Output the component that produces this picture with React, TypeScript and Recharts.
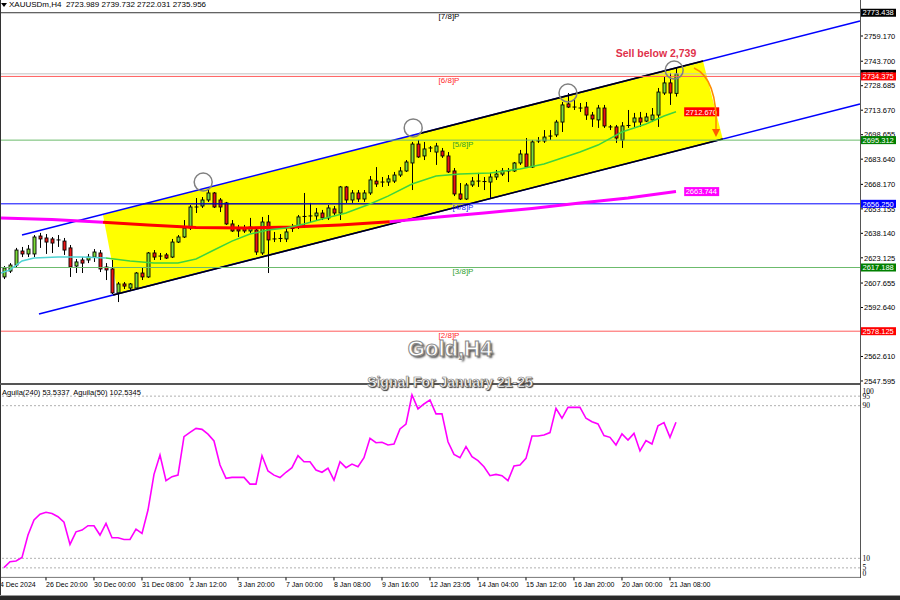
import React from 'react';
import {
  ComposedChart,
  Bar,
  Line,
  Area,
  XAxis,
  YAxis,
  ReferenceLine,
  ReferenceDot,
} from 'recharts';

// H4 candles, 24 Dec 2024 -> 21 Jan 2025 (index 0 = first visible bar)
const opens = [
  2611.4, 2615.0, 2618.7, 2627.3, 2625.5, 2625.5, 2636.5, 2635.3, 2634.7, 2634.1,
  2633.4, 2629.2, 2618.1, 2621.8, 2621.8, 2623.6, 2626.1, 2617.5, 2616.3, 2601.6,
  2607.1, 2604.6, 2604.6, 2613.8, 2611.4, 2626.1, 2624.2, 2624.9, 2623.6, 2632.8,
  2635.9, 2641.4, 2654.3, 2654.9, 2658.6, 2662.9, 2658.6, 2656.8, 2643.9, 2640.8,
  2641.4, 2639.6, 2640.2, 2626.1, 2645.1, 2634.7, 2634.7, 2634.7, 2640.8, 2642.0,
  2648.2, 2648.8, 2648.8, 2650.6, 2647.6, 2653.1, 2650.6, 2666.6, 2658.6, 2662.9,
  2659.2, 2662.9, 2670.2, 2669.6, 2669.6, 2670.2, 2673.9, 2676.4, 2681.3, 2692.9,
  2685.6, 2690.5, 2688.0, 2688.6, 2685.6, 2676.4, 2662.3, 2659.2, 2667.8, 2670.2,
  2669.6, 2669.6, 2672.7, 2674.5, 2676.4, 2676.4, 2681.3, 2686.8, 2678.8, 2694.8,
  2694.8, 2697.8, 2698.5, 2706.4, 2717.5, 2715.6, 2715.0, 2715.6, 2710.7, 2707.7,
  2715.0, 2703.4, 2703.4, 2695.4, 2704.0, 2706.4, 2708.9, 2707.0, 2707.7, 2710.7,
  2724.2, 2730.4, 2723.989,
];
const highs = [
  2618.1, 2619.9, 2629.2, 2629.8, 2631.0, 2637.1, 2638.4, 2637.7, 2635.9, 2637.1,
  2635.3, 2631.0, 2622.4, 2623.6, 2625.5, 2628.5, 2627.9, 2619.9, 2621.8, 2608.3,
  2608.3, 2607.7, 2614.4, 2617.5, 2626.7, 2627.9, 2626.1, 2626.1, 2634.7, 2637.1,
  2646.3, 2655.5, 2659.8, 2660.4, 2664.7, 2663.5, 2659.8, 2657.4, 2646.3, 2643.3,
  2643.3, 2647.6, 2642.0, 2648.2, 2649.4, 2639.0, 2637.7, 2642.0, 2643.9, 2649.4,
  2662.9, 2656.8, 2653.7, 2652.5, 2655.5, 2654.9, 2667.2, 2667.2, 2664.7, 2664.7,
  2664.7, 2673.3, 2678.8, 2672.7, 2673.9, 2675.8, 2678.8, 2683.1, 2694.2, 2695.4,
  2694.2, 2691.7, 2693.6, 2690.5, 2688.0, 2678.2, 2669.0, 2669.0, 2672.7, 2675.2,
  2672.7, 2675.2, 2677.0, 2678.2, 2678.2, 2681.9, 2689.3, 2696.6, 2695.4, 2697.2,
  2701.5, 2701.5, 2707.7, 2718.7, 2724.2, 2719.9, 2718.1, 2718.7, 2712.6, 2716.9,
  2716.9, 2704.6, 2704.6, 2706.4, 2713.8, 2712.0, 2712.6, 2712.0, 2715.0, 2727.3,
  2734.0, 2736.5, 2739.732,
];
const lows = [
  2610.1, 2613.8, 2617.5, 2623.6, 2623.6, 2623.6, 2629.2, 2625.5, 2626.1, 2629.8,
  2624.9, 2611.4, 2613.8, 2613.8, 2619.9, 2620.6, 2614.4, 2609.5, 2600.9, 2596.0,
  2604.0, 2603.4, 2604.0, 2609.5, 2610.8, 2621.8, 2621.8, 2622.4, 2623.0, 2632.2,
  2635.3, 2640.2, 2650.6, 2653.7, 2657.4, 2653.7, 2651.2, 2643.3, 2639.0, 2635.9,
  2638.4, 2638.4, 2624.9, 2624.9, 2613.8, 2632.8, 2632.8, 2632.8, 2639.0, 2640.8,
  2641.4, 2644.5, 2646.3, 2646.3, 2646.3, 2649.4, 2646.3, 2656.8, 2656.8, 2657.4,
  2657.4, 2661.7, 2666.6, 2666.6, 2667.2, 2669.0, 2672.7, 2675.8, 2664.7, 2684.4,
  2683.1, 2688.0, 2680.1, 2684.4, 2675.2, 2661.0, 2658.6, 2658.6, 2666.6, 2666.6,
  2664.7, 2659.8, 2670.9, 2673.3, 2669.6, 2675.8, 2680.1, 2678.2, 2678.2, 2693.6,
  2693.6, 2695.4, 2697.2, 2700.3, 2715.0, 2713.8, 2712.6, 2707.7, 2703.4, 2702.8,
  2702.8, 2701.5, 2693.6, 2690.5, 2702.8, 2703.4, 2703.4, 2706.4, 2706.4, 2703.4,
  2723.0, 2716.9, 2722.031,
];
const closes = [
  2616.9, 2618.7, 2627.9, 2625.5, 2628.5, 2635.9, 2634.7, 2632.8, 2632.2, 2633.8,
  2627.9, 2617.5, 2620.6, 2619.9, 2623.6, 2626.7, 2616.3, 2615.7, 2601.6, 2607.1,
  2605.8, 2607.1, 2613.8, 2611.4, 2626.1, 2623.6, 2623.9, 2623.0, 2632.8, 2635.9,
  2641.4, 2654.3, 2654.0, 2658.6, 2662.9, 2654.3, 2654.3, 2643.9, 2639.6, 2639.6,
  2639.6, 2642.0, 2626.7, 2645.1, 2634.1, 2634.4, 2635.0, 2639.0, 2641.1, 2648.2,
  2648.5, 2648.5, 2650.6, 2647.6, 2653.7, 2650.6, 2666.6, 2658.6, 2662.9, 2659.2,
  2662.9, 2670.9, 2668.4, 2669.3, 2671.5, 2673.9, 2676.4, 2681.9, 2692.9, 2685.0,
  2689.9, 2690.2, 2691.7, 2685.6, 2675.8, 2662.3, 2659.2, 2667.8, 2670.2, 2669.9,
  2669.9, 2672.7, 2674.5, 2676.4, 2676.1, 2681.3, 2686.8, 2678.8, 2694.2, 2694.5,
  2697.2, 2697.5, 2706.4, 2716.9, 2715.6, 2715.3, 2714.7, 2710.7, 2708.3, 2715.0,
  2704.0, 2703.1, 2696.6, 2704.0, 2704.3, 2708.9, 2706.4, 2709.5, 2710.7, 2724.8,
  2730.4, 2724.2, 2735.956,
];

// Aguila oscillator, one value per bar
const aguila = [
  5.1, 8.2, 8.6, 10.5, 22.2, 30.1, 33.1, 34.1, 33.5, 31.8,
  28.9, 17.3, 23.9, 24.8, 27.1, 27.1, 22.2, 28.3, 20.8, 20.8,
  19.9, 19.9, 25.3, 23.1, 35.3, 54.0, 64.1, 50.7, 52.8, 53.6,
  73.8, 76.0, 78.1, 77.6, 75.1, 71.5, 58.9, 51.9, 52.4, 52.4,
  52.4, 48.9, 48.9, 63.8, 55.8, 53.6, 52.3, 55.1, 57.5, 63.8,
  60.6, 60.6, 56.3, 55.1, 57.2, 51.0, 60.6, 57.5, 59.4, 58.0,
  62.7, 72.9, 70.6, 70.8, 69.4, 69.9, 77.8, 80.4, 95.6, 88.3,
  90.9, 93.0, 85.7, 85.7, 71.1, 64.5, 62.7, 68.5, 63.3, 61.2,
  58.0, 53.3, 54.0, 53.3, 50.7, 58.4, 58.9, 62.4, 74.1, 74.1,
  74.6, 75.9, 88.6, 83.4, 89.1, 89.1, 89.1, 83.4, 81.6, 80.4,
  74.3, 73.4, 69.4, 75.2, 72.0, 75.5, 66.3, 71.7, 69.9, 79.5,
  81.1, 73.4, 81.3,
];

// moving averages (bar index / price)
const fastMaIdx = [-0.5, 1, 3, 5, 9, 13, 17, 21, 25, 29, 32, 35, 38, 41, 44, 47, 50, 53, 57, 61, 64, 68, 72, 76, 81, 86, 90, 93, 96, 99, 103, 107, 110, 112];
const fastMaVal = [2613.8, 2615.7, 2621.2, 2623.0, 2623.6, 2623.6, 2623.0, 2621.2, 2619.9, 2619.9, 2622.4, 2627.9, 2633.4, 2637.7, 2640.2, 2641.4, 2643.9, 2646.9, 2650.6, 2656.1, 2661.0, 2668.4, 2673.3, 2674.5, 2675.2, 2677.6, 2680.7, 2684.4, 2688.0, 2692.3, 2700.3, 2705.2, 2710.1, 2712.67];
const slowMaIdx = [-0.5, 8, 16.5, 24, 32, 40, 48, 56, 64.3, 72, 80, 88, 96, 104, 112];
const slowMaVal = [2647.6, 2646.6, 2645.0, 2643.3, 2641.7, 2641.4, 2642.0, 2643.3, 2645.3, 2648.0, 2650.6, 2653.4, 2656.8, 2659.8, 2663.744];

// channel (bar index / price)
const upperChanIdx = [3, 142.67];
const upperChanVal = [2637.1, 2768.4];
const lowerChanIdx = [5.83, 142.67];
const lowerChanVal = [2588.7, 2717.5];
const bandIdx = [16.5, 19, 116.5, 119.8];
const bandLow = [2649.4, 2600.9, 2692.8, 2696.0];
const bandHigh = [2649.4, 2652.2, 2743.8, 2696.0];

// Murrey math levels
const levelVals = [2773.438, 2734.375, 2695.312, 2656.25, 2617.188, 2578.125];
const levelNames = ['[7/8]P', '[6/8]P', '[5/8]P', '[4/8]P', '[3/8]P', '[2/8]P'];

const circleIdx = [33.2, 68.2, 94, 111.7];
const circleVal = [2669.6, 2702.8, 2724.2, 2738.3];

const priceTicks = [2759.17, 2743.7, 2728.685, 2713.67, 2698.655, 2683.64, 2668.17, 2653.155, 2638.14, 2623.125, 2607.655, 2592.64, 2577.625, 2562.61, 2547.595];
const bidPrice = 2735.956;
const oscTicks = [100, 95, 90, 10, 5, 0];
const timeTickIdx = [-0.5, 7, 15, 23, 31, 39, 47, 55, 63, 71, 79, 87, 95, 103, 111];
const timeTickLabels = ['24 Dec 2024', '26 Dec 20:00', '30 Dec 00:00', '31 Dec 08:00', '2 Jan 12:00', '3 Jan 20:00', '7 Jan 00:00', '8 Jan 08:00', '9 Jan 16:00', '12 Jan 23:05', '14 Jan 04:00', '15 Jan 12:00', '16 Jan 20:00', '20 Jan 00:00', '21 Jan 08:00'];

const FONT = '"Liberation Sans", Arial, sans-serif';
const X_DOMAIN: [number, number] = [-0.5, 142.67];
const PRICE_DOMAIN: [number, number] = [2545.74, 2775.12];

const levelLine = ['#333333', '#ff5c5c', '#6cbb6c', '#0000ff', '#6cbb6c', '#ff5c5c'];
const levelText = ['#000000', '#ff2a2a', '#2f9e2f', '#1a1aff', '#2f9e2f', '#ff2a2a'];
const levelTag = ['#000000', '#ff0000', '#008000', '#0000ff', '#008000', '#ff0000'];
const levelTextDx = [448, 448, 462, 462, 462, 448];

// axis tags are drawn as extra ticks after the normal ones so they sit on top
const tagColor: Record<string, string> = { [bidPrice.toFixed(3)]: '#000000' };
levelVals.forEach((v, k) => {
  tagColor[v.toFixed(3)] = levelTag[k];
});
const axisTicks = [...priceTicks, bidPrice, ...levelVals];

const candles = opens.map((o, i) => ({
  i,
  o,
  h: highs[i],
  l: lows[i],
  c: closes[i],
  range: [lows[i], highs[i]],
}));
const oscData = aguila.map((v, i) => ({ i, v }));
const toPts = (idx: number[], val: number[]) => idx.map((i, k) => ({ i, v: val[k] }));
const fastPts = toPts(fastMaIdx, fastMaVal);
const slowPts = toPts(slowMaIdx, slowMaVal);
const band = bandIdx.map((i, k) => ({ i, band: [bandLow[k], bandHigh[k]] }));

const Candle = (props: any) => {
  const { x, y, width, height, payload } = props;
  if (!payload) return null;
  const { o, h, l, c } = payload;
  const top = Math.min(y, y + height);
  const span = Math.abs(height) || 1;
  const py = (p: number) => top + ((h - p) / (h - l)) * span;
  const cx = Math.round(x + width / 2) + 0.5;
  const bTop = py(Math.max(o, c));
  const bBot = py(Math.min(o, c));
  const up = c >= o;
  return (
    <g>
      <line x1={cx} x2={cx} y1={top} y2={top + span} stroke="#000" strokeWidth={1} />
      {bBot - bTop < 1.2 ? (
        <line x1={cx - 2} x2={cx + 2} y1={bTop} y2={bTop} stroke="#000" strokeWidth={1} />
      ) : (
        <rect
          x={cx - 1.5}
          y={bTop}
          width={3}
          height={bBot - bTop}
          fill={up ? '#7ddc3a' : '#ec1515'}
          stroke="#000"
          strokeWidth={0.9}
        />
      )}
    </g>
  );
};

const PriceTick = (props: any) => {
  const { x, y, payload, index } = props;
  const key = payload.value.toFixed(3);
  const isTag = index >= priceTicks.length;
  if (isTag) {
    return (
      <g>
        <rect x={x + 1} y={y - 4} width={35} height={8} fill={tagColor[key] || '#000'} />
        <text x={x + 2.5} y={y + 2.7} fontSize={7.5} fontFamily={FONT} fill="#fff">
          {key}
        </text>
      </g>
    );
  }
  return (
    <g>
      <line x1={x} x2={x + 3} y1={y} y2={y} stroke="#000" />
      <text x={x + 4} y={y + 2.7} fontSize={7.5} fontFamily={FONT} fill="#000">
        {key}
      </text>
    </g>
  );
};

const TimeTick = (props: any) => {
  const { x, y, payload } = props;
  const k = timeTickIdx.indexOf(payload.value);
  const first = k === 0;
  return (
    <g>
      {!first && <line x1={x} x2={x} y1={y} y2={y + 3} stroke="#000" />}
      <text x={first ? x - 5 : x} y={y + 10} fontSize={7} fontFamily={FONT} fill="#000">
        {timeTickLabels[k]}
      </text>
    </g>
  );
};

const OscTick = (props: any) => {
  const { x, y, payload } = props;
  const v = payload.value;
  const dy = v === 100 ? 4.4 : v === 0 ? -4.4 : 0;
  return (
    <text x={x + 2.5} y={y + dy + 2.6} fontSize={7.5} fontFamily='"Liberation Serif", serif' fill="#000">
      {v}
    </text>
  );
};

const tagShape = (text: string, bg: string, fg = '#fff') => (p: any) => (
  <g>
    <rect x={p.cx + 1} y={p.cy - 4.5} width={35} height={9} fill={bg} />
    <text x={p.cx + 2.5} y={p.cy + 2.8} fontSize={7.5} fontFamily={FONT} fill={fg}>
      {text}
    </text>
  </g>
);

const levelLabel = (k: number) => (p: any) => {
  const vb = p.viewBox || { x: 1, y: 0 };
  return (
    <text
      x={vb.x + levelTextDx[k]}
      y={vb.y + 6.5}
      textAnchor="middle"
      fontSize={8}
      fontFamily={FONT}
      fill={levelText[k]}
    >
      {levelNames[k]}
    </text>
  );
};

const App: React.FC = () => {
  return (
    <div
      style={{
        position: 'absolute',
        left: 0,
        top: 0,
        width: 900,
        height: 600,
        background: '#fff',
        overflow: 'hidden',
        fontFamily: FONT,
      }}
    >
      {/* price pane */}
      <div style={{ position: 'absolute', left: 0, top: 0 }}>
        <ComposedChart width={900} height={385} data={candles} margin={{ top: 10, right: 0, bottom: 1, left: 1 }}>
          <XAxis dataKey="i" type="number" domain={X_DOMAIN} allowDataOverflow hide />
          <YAxis
            orientation="right"
            width={40}
            domain={PRICE_DOMAIN}
            allowDataOverflow
            ticks={axisTicks}
            interval={0}
            axisLine={false}
            tickLine={false}
            tickSize={0}
            tickMargin={0}
            tick={<PriceTick />}
          />

          <Area
            data={band}
            dataKey="band"
            type="linear"
            stroke="none"
            fill="#ffff00"
            fillOpacity={1}
            isAnimationActive={false}
            dot={false}
            activeDot={false}
          />

          <ReferenceLine y={bidPrice} stroke="#c0c0c0" strokeWidth={1} />
          <ReferenceLine
            segment={[{ x: 23.2, y: 2656.25 }, { x: 74.7, y: 2656.25 }]}
            stroke="#000"
            strokeWidth={1}
          />

          <ReferenceLine
            segment={[
              { x: upperChanIdx[0], y: upperChanVal[0] },
              { x: upperChanIdx[1], y: upperChanVal[1] },
            ]}
            stroke="#0000ff"
            strokeWidth={1.6}
          />
          <ReferenceLine
            segment={[
              { x: lowerChanIdx[0], y: lowerChanVal[0] },
              { x: lowerChanIdx[1], y: lowerChanVal[1] },
            ]}
            stroke="#0000ff"
            strokeWidth={1.6}
          />
          <ReferenceLine
            segment={[{ x: 69.3, y: 2699.4 }, { x: 116.5, y: 2743.8 }]}
            stroke="#000"
            strokeWidth={1.6}
          />
          <ReferenceLine
            segment={[{ x: 18.2, y: 2600.3 }, { x: 119.8, y: 2696.0 }]}
            stroke="#000"
            strokeWidth={1.6}
          />

          {levelVals.map((v, k) => (
            <ReferenceLine key={`lv-${k}`} y={v} stroke={levelLine[k]} strokeWidth={1} label={levelLabel(k)} />
          ))}

          <Line data={slowPts.filter((p) => p.i <= 16.5)} dataKey="v" stroke="#ff00ff" strokeWidth={3} dot={false} activeDot={false} isAnimationActive={false} />
          <Line data={slowPts.filter((p) => p.i >= 16.5 && p.i <= 64.3)} dataKey="v" stroke="#ff0000" strokeWidth={3} dot={false} activeDot={false} isAnimationActive={false} />
          <Line data={slowPts.filter((p) => p.i >= 64.3)} dataKey="v" stroke="#ff00ff" strokeWidth={3} dot={false} activeDot={false} isAnimationActive={false} />
          <Line data={fastPts.filter((p) => p.i <= 17)} dataKey="v" stroke="#4fd3d3" strokeWidth={1.5} dot={false} activeDot={false} isAnimationActive={false} />
          <Line data={fastPts.filter((p) => p.i >= 17)} dataKey="v" stroke="#3ed43e" strokeWidth={1.5} dot={false} activeDot={false} isAnimationActive={false} />

          <Bar dataKey="range" barSize={4} shape={<Candle />} isAnimationActive={false} />

          {circleIdx.map((x, k) => (
            <ReferenceDot key={`cr-${k}`} x={x} y={circleVal[k]} r={9} fill="none" stroke="#808080" strokeWidth={1.5} ifOverflow="visible" />
          ))}

          <ReferenceDot x={113.2} y={2712.67} r={0} shape={tagShape('2712.670', '#ff0000')} ifOverflow="visible" />
          <ReferenceDot x={113.2} y={2663.744} r={0} shape={tagShape('2663.744', '#ff00ff')} ifOverflow="visible" />
        </ComposedChart>
      </div>

      {/* oscillator pane */}
      <div style={{ position: 'absolute', left: 0, top: 385 }}>
        <ComposedChart width={900} height={215} data={oscData} margin={{ top: 1.6, right: 0, bottom: 0, left: 1 }}>
          <XAxis
            dataKey="i"
            type="number"
            domain={X_DOMAIN}
            allowDataOverflow
            ticks={timeTickIdx}
            interval={0}
            height={22.6}
            axisLine={{ stroke: '#777' }}
            tickLine={false}
            tickSize={0}
            tickMargin={0}
            tick={<TimeTick />}
          />
          <YAxis
            orientation="right"
            width={40}
            domain={[0, 100]}
            allowDataOverflow
            ticks={oscTicks}
            interval={0}
            axisLine={false}
            tickLine={false}
            tickSize={0}
            tickMargin={0}
            tick={<OscTick />}
          />
          {[95, 90, 10, 5].map((v) => (
            <ReferenceLine key={`os-${v}`} y={v} stroke="#b0b0b0" strokeDasharray="2 2" />
          ))}
          <Line dataKey="v" stroke="#ff00ff" strokeWidth={1.6} dot={false} activeDot={false} isAnimationActive={false} />
        </ComposedChart>
      </div>

      {/* frame */}
      <div style={{ position: 'absolute', left: 0, top: 0, width: 1, height: 596, background: '#333' }} />
      <div style={{ position: 'absolute', left: 860, top: 0, width: 1, height: 578, background: '#555' }} />
      <div style={{ position: 'absolute', left: 0, top: 383, width: 861, height: 2, background: '#555' }} />
      <div style={{ position: 'absolute', left: 0, top: 595, width: 900, height: 1, background: '#999' }} />
      <div style={{ position: 'absolute', left: 0, top: 596, width: 900, height: 4, background: '#2a2a2a' }} />

      {/* header */}
      <div
        style={{
          position: 'absolute',
          left: 1,
          top: 3,
          width: 0,
          height: 0,
          borderLeft: '3px solid transparent',
          borderRight: '3px solid transparent',
          borderTop: '4px solid #000',
        }}
      />
      <div style={{ position: 'absolute', left: 9, top: 0, fontSize: 8, lineHeight: '10px', color: '#000', whiteSpace: 'pre' }}>
        {'XAUUSDm,H4  2723.989 2739.732 2722.031 2735.956'}
      </div>
      <div style={{ position: 'absolute', left: 2, top: 388, fontSize: 7.5, lineHeight: '10px', color: '#000', whiteSpace: 'pre' }}>
        {'Aguila(240) 53.5337  Aguila(50) 102.5345'}
      </div>

      {/* annotations */}
      <div
        style={{
          position: 'absolute',
          left: 556,
          top: 46,
          width: 200,
          textAlign: 'center',
          fontSize: 10.5,
          lineHeight: '14px',
          fontWeight: 'bold',
          color: '#e0314b',
        }}
      >
        Sell below 2,739
      </div>
      <svg width={900} height={600} style={{ position: 'absolute', left: 0, top: 0, pointerEvents: 'none' }}>
        <path d="M 694 68 C 712 76, 717 100, 716 130" fill="none" stroke="#ff8c00" strokeWidth={1.6} />
        <path d="M 712 129 L 716 137 L 720 129 Z" fill="#ff5a00" />
      </svg>
      <div
        style={{
          position: 'absolute',
          left: 0,
          top: 337,
          width: 900,
          textAlign: 'center',
          fontSize: 22,
          lineHeight: '24px',
          fontWeight: 'bold',
          color: '#ffffff',
          WebkitTextStroke: '1px #8a8a8a',
          textShadow: '2px 2px 2px #555',
        }}
      >
        Gold,H4
      </div>
      <div
        style={{
          position: 'absolute',
          left: 0,
          top: 374,
          width: 900,
          textAlign: 'center',
          fontSize: 14,
          lineHeight: '16px',
          fontWeight: 'bold',
          color: '#ffffff',
          WebkitTextStroke: '0.6px #777',
          textShadow: '1px 1px 1px #333',
        }}
      >
        Signal For January 21-25
      </div>
    </div>
  );
};

export default App;
